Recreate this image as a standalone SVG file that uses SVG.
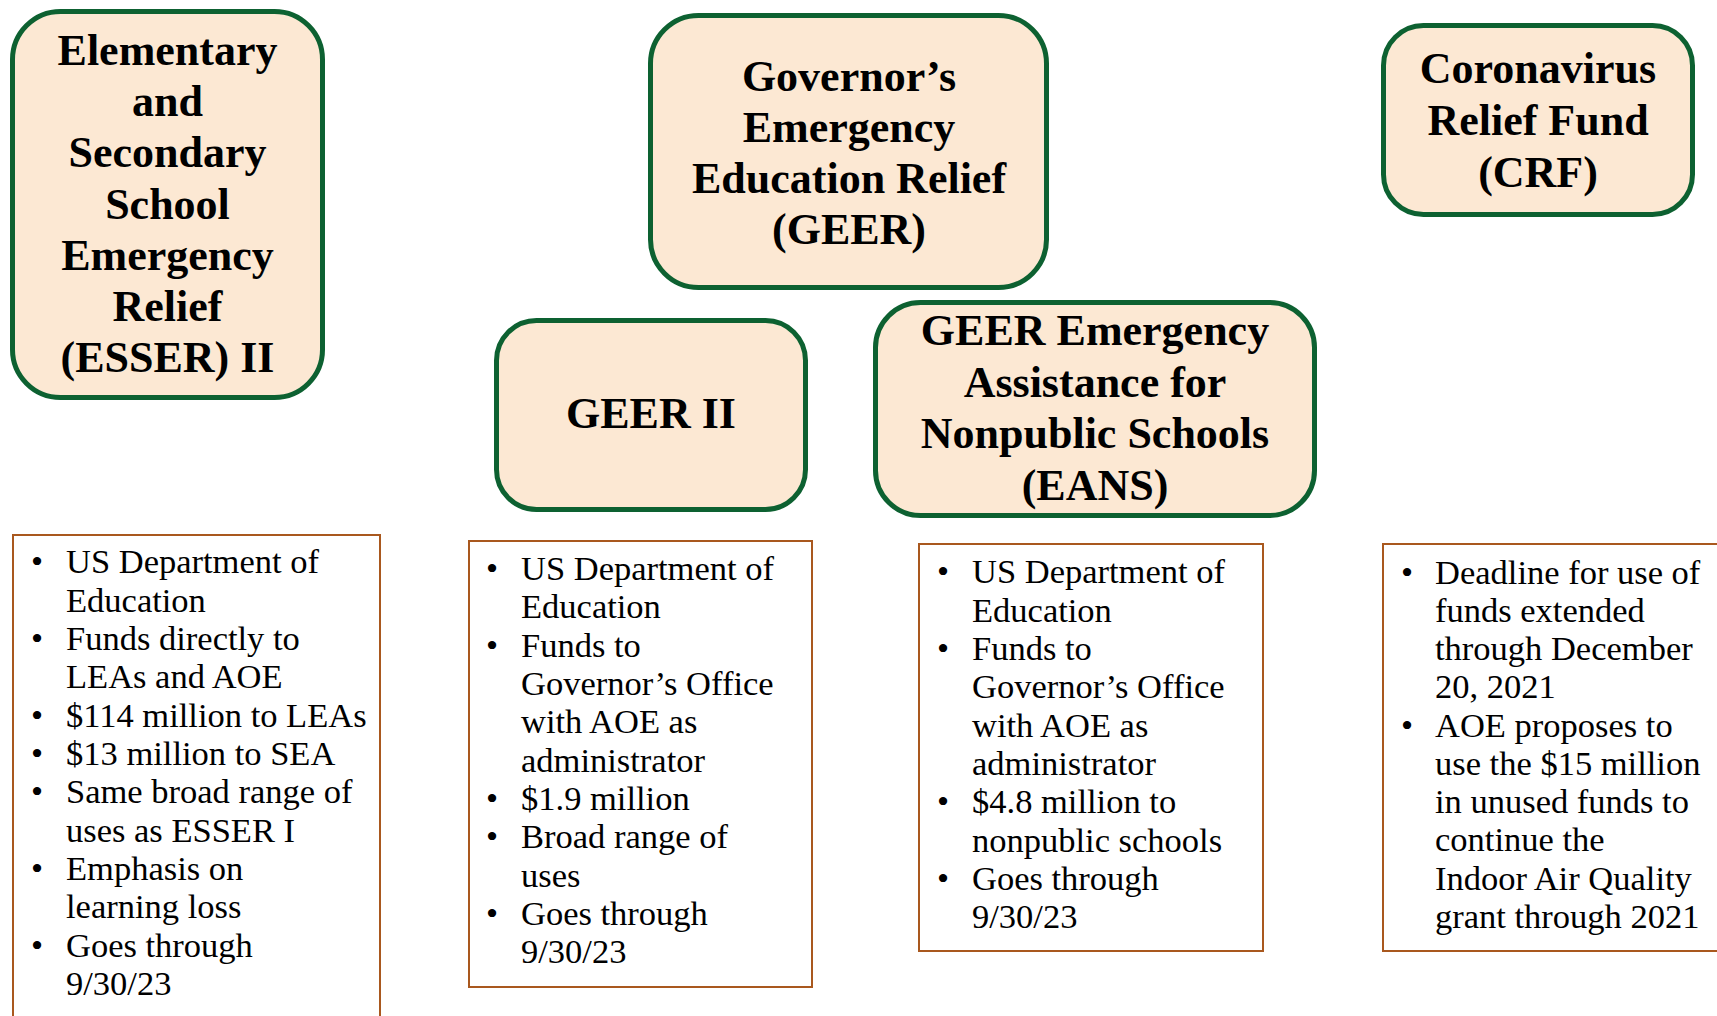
<svg xmlns="http://www.w3.org/2000/svg" width="1717" height="1016" viewBox="0 0 1717 1016">
<style>
.hd{fill:#FCE8D3;stroke:#0D6131;stroke-width:5}
.ht{font-family:"Liberation Serif","Times New Roman",serif;font-weight:bold;font-size:44px;fill:#000;text-anchor:middle}
.bx{fill:#fff;stroke:#A9581E;stroke-width:2}
.bt{font-family:"Liberation Serif","Times New Roman",serif;font-size:34.5px;fill:#000}
.bl{text-anchor:middle}
</style>
<rect width="1717" height="1016" fill="#fff"/>
<g id="connectors"/>
<g id="esser">
<rect class="hd" x="12.5" y="11.5" width="310" height="386" rx="48"/>
<text class="ht" x="167.5"><tspan x="167.5" y="65">Elementary</tspan><tspan x="167.5" y="116">and</tspan><tspan x="167.5" y="167">Secondary</tspan><tspan x="167.5" y="219">School</tspan><tspan x="167.5" y="270">Emergency</tspan><tspan x="167.5" y="321">Relief</tspan><tspan x="167.5" y="372">(ESSER) II</tspan></text>
</g>
<g id="geer">
<rect class="hd" x="650.5" y="15.5" width="396" height="272" rx="48"/>
<text class="ht"><tspan x="849" y="91">Governor’s</tspan><tspan x="849" y="142">Emergency</tspan><tspan x="849" y="193">Education Relief</tspan><tspan x="849" y="244">(GEER)</tspan></text>
</g>
<g id="geer2">
<rect class="hd" x="496.5" y="320.5" width="309" height="189" rx="40"/>
<text class="ht" x="651" y="428">GEER II</text>
</g>
<g id="eans">
<rect class="hd" x="875.5" y="302.5" width="439" height="213" rx="45"/>
<text class="ht"><tspan x="1095" y="345">GEER Emergency</tspan><tspan x="1095" y="397">Assistance for</tspan><tspan x="1095" y="448">Nonpublic Schools</tspan><tspan x="1095" y="500">(EANS)</tspan></text>
</g>
<g id="crf">
<rect class="hd" x="1383.5" y="25.5" width="309" height="189" rx="40"/>
<text class="ht"><tspan x="1538" y="83">Coronavirus</tspan><tspan x="1538" y="135">Relief Fund</tspan><tspan x="1538" y="187">(CRF)</tspan></text>
</g>
<g id="esser-details">
<rect class="bx" x="13" y="535" width="367" height="500"/>
<text class="bt bl"><tspan x="37" y="573">•</tspan><tspan x="37" y="650">•</tspan><tspan x="37" y="727">•</tspan><tspan x="37" y="765">•</tspan><tspan x="37" y="803">•</tspan><tspan x="37" y="880">•</tspan><tspan x="37" y="957">•</tspan></text>
<text class="bt"><tspan x="66" y="573">US Department of</tspan><tspan x="66" y="612">Education</tspan><tspan x="66" y="650">Funds directly to</tspan><tspan x="66" y="688">LEAs and AOE</tspan><tspan x="66" y="727">$114 million to LEAs</tspan><tspan x="66" y="765">$13 million to SEA</tspan><tspan x="66" y="803">Same broad range of</tspan><tspan x="66" y="842">uses as ESSER I</tspan><tspan x="66" y="880">Emphasis on</tspan><tspan x="66" y="918">learning loss</tspan><tspan x="66" y="957">Goes through</tspan><tspan x="66" y="995">9/30/23</tspan></text>
</g>
<g id="geer2-details">
<rect class="bx" x="469" y="541" width="343" height="446"/>
<text class="bt bl"><tspan x="492" y="580">•</tspan><tspan x="492" y="657">•</tspan><tspan x="492" y="810">•</tspan><tspan x="492" y="848">•</tspan><tspan x="492" y="925">•</tspan></text>
<text class="bt"><tspan x="521" y="580">US Department of</tspan><tspan x="521" y="618">Education</tspan><tspan x="521" y="657">Funds to</tspan><tspan x="521" y="695">Governor’s Office</tspan><tspan x="521" y="733">with AOE as</tspan><tspan x="521" y="772">administrator</tspan><tspan x="521" y="810">$1.9 million</tspan><tspan x="521" y="848">Broad range of</tspan><tspan x="521" y="887">uses</tspan><tspan x="521" y="925">Goes through</tspan><tspan x="521" y="963">9/30/23</tspan></text>
</g>
<g id="eans-details">
<rect class="bx" x="919" y="544" width="344" height="407"/>
<text class="bt bl"><tspan x="943" y="583">•</tspan><tspan x="943" y="660">•</tspan><tspan x="943" y="813">•</tspan><tspan x="943" y="890">•</tspan></text>
<text class="bt"><tspan x="972" y="583">US Department of</tspan><tspan x="972" y="622">Education</tspan><tspan x="972" y="660">Funds to</tspan><tspan x="972" y="698">Governor’s Office</tspan><tspan x="972" y="737">with AOE as</tspan><tspan x="972" y="775">administrator</tspan><tspan x="972" y="813">$4.8 million to</tspan><tspan x="972" y="852">nonpublic schools</tspan><tspan x="972" y="890">Goes through</tspan><tspan x="972" y="928">9/30/23</tspan></text>
</g>
<g id="crf-details">
<rect class="bx" x="1383" y="544" width="350" height="407"/>
<text class="bt bl"><tspan x="1407" y="584">•</tspan><tspan x="1407" y="737">•</tspan></text>
<text class="bt"><tspan x="1435" y="584">Deadline for use of</tspan><tspan x="1435" y="622">funds extended</tspan><tspan x="1435" y="660">through December</tspan><tspan x="1435" y="698">20, 2021</tspan><tspan x="1435" y="737">AOE proposes to</tspan><tspan x="1435" y="775">use the $15 million</tspan><tspan x="1435" y="813">in unused funds to</tspan><tspan x="1435" y="851">continue the</tspan><tspan x="1435" y="890">Indoor Air Quality</tspan><tspan x="1435" y="928">grant through 2021</tspan></text>
</g>
</svg>
